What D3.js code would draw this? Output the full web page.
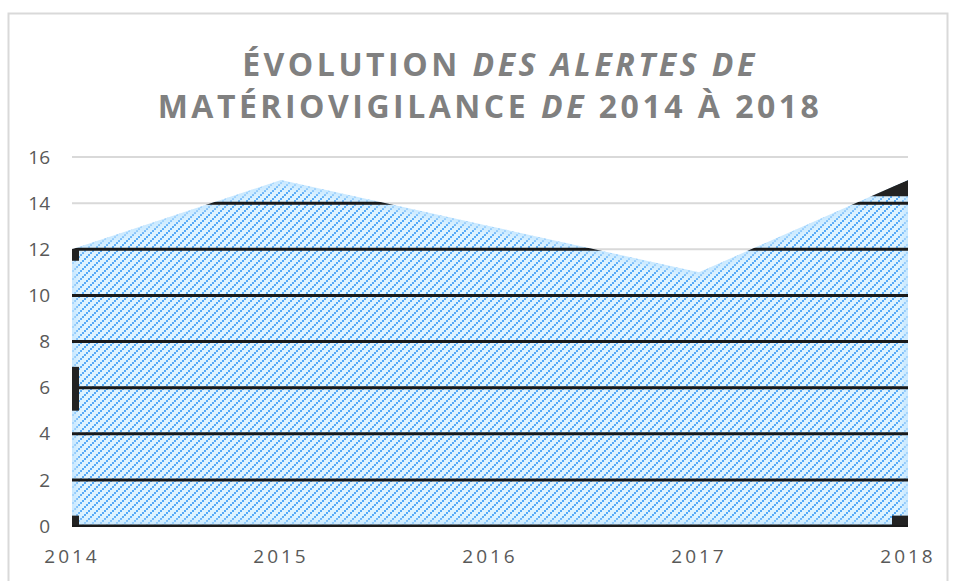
<!DOCTYPE html>
<html lang="fr">
<head>
<meta charset="UTF-8">
<title>Évolution des alertes de matériovigilance</title>
<script src="https://d3js.org/d3.v7.min.js"></script>
<style>
  * { margin: 0; padding: 0; box-sizing: border-box; }
  body { background: #fff; width: 955px; height: 581px; overflow: hidden; }
  svg text { font-family: "Open Sans", "DejaVu Sans", sans-serif; }
</style>
</head>
<body>
<div id="chart"></div>
<script>
  // données
  const annees = ["2014", "2015", "2016", "2017", "2018"];
  const alertes = [12, 15, 13, 11, 15];
  const yTicks = [0, 2, 4, 6, 8, 10, 12, 14, 16];

  const W = 955, H = 581;
  const margin = { top: 157, right: 47, bottom: 55, left: 72 };

  const svg = d3.select("#chart").append("svg")
    .attr("width", W).attr("height", H);

  const defs = svg.append("defs");

  // motif hachuré diagonal
  const pat = defs.append("pattern")
    .attr("id", "hach")
    .attr("patternUnits", "userSpaceOnUse")
    .attr("width", 8).attr("height", 8);
  pat.append("rect").attr("width", 8).attr("height", 8).attr("fill", "#e0f4ff");
  [[0, 6], [2, 4], [4, 2], [6, 0]].forEach(p => {
    pat.append("rect").attr("x", p[0]).attr("y", p[1])
      .attr("width", 2).attr("height", 2).attr("fill", "#55aaf7");
  });

  const blur = defs.append("filter").attr("id", "glow")
    .attr("x", "-5%").attr("y", "-5%").attr("width", "110%").attr("height", "110%");
  blur.append("feGaussianBlur").attr("stdDeviation", 3);

  // cadre
  svg.append("rect")
    .attr("x", 8.5).attr("y", 13.5)
    .attr("width", 939).attr("height", 600)
    .attr("fill", "none").attr("stroke", "#d9d9d9").attr("stroke-width", 2);

  // titre
  const titre = svg.append("text")
    .attr("text-anchor", "middle")
    .attr("fill", "#808080")
    .style("font-size", "32px")
    .style("font-weight", "bold")
    .style("letter-spacing", "3.5px");
  const l1 = titre.append("tspan").attr("x", 500).attr("y", 76);
  l1.append("tspan").text("ÉVOLUTION ");
  l1.append("tspan").style("font-style", "italic").text("DES ALERTES DE");
  const l2 = titre.append("tspan").attr("x", 490).attr("y", 118);
  l2.append("tspan").text("MATÉRIOVIGILANCE ");
  l2.append("tspan").style("font-style", "italic").text("DE");
  l2.append("tspan").text(" 2014 À 2018");

  const x = d3.scalePoint().domain(annees).range([margin.left, W - margin.right]);
  const y = d3.scaleLinear().domain([0, 16]).range([H - margin.bottom, margin.top]);

  const area = d3.area()
    .x((d, i) => x(annees[i]))
    .y0(y(0))
    .y1(d => y(d));

  defs.append("clipPath").attr("id", "clipAire")
    .append("path").attr("d", area(alertes));

  // grille claire
  svg.append("g")
    .selectAll("line")
    .data(yTicks)
    .join("line")
    .attr("x1", margin.left).attr("x2", W - margin.right)
    .attr("y1", d => y(d)).attr("y2", d => y(d))
    .attr("stroke", "#d9d9d9").attr("stroke-width", 2);

  // aire
  const g = svg.append("g").attr("clip-path", "url(#clipAire)");
  g.append("path").attr("d", area(alertes)).attr("fill", "url(#hach)");
  // lueur interne des bords
  g.append("path").attr("d", area(alertes))
    .attr("fill", "none").attr("stroke", "#c4e6ff").attr("stroke-width", 10)
    .attr("opacity", 0.85).attr("filter", "url(#glow)");

  // grille sombre dans l'aire
  g.selectAll("line.sombre")
    .data(yTicks)
    .join("line")
    .attr("class", "sombre")
    .attr("x1", margin.left).attr("x2", W - margin.right)
    .attr("y1", d => y(d)).attr("y2", d => y(d))
    .attr("stroke", "#1a1a1a").attr("stroke-width", 3);

  // petites marques sombres
  g.append("rect").attr("x", x("2014")).attr("y", y(0.45)).attr("width", 7).attr("height", y(0) - y(0.45)).attr("fill", "#222");
  g.append("rect").attr("x", x("2014")).attr("y", y(6.9)).attr("width", 7).attr("height", y(5) - y(6.9)).attr("fill", "#222");
  g.append("rect").attr("x", x("2014")).attr("y", y(12)).attr("width", 7).attr("height", y(11.5) - y(12)).attr("fill", "#222");
  g.append("rect").attr("x", x("2018") - 16).attr("y", y(0.45)).attr("width", 16).attr("height", y(0) - y(0.45)).attr("fill", "#222");
  g.append("path")
    .attr("d", `M${x("2018") - 40},${y(14.3)}L${x("2018")},${y(15)}L${x("2018")},${y(14.3)}Z`)
    .attr("fill", "#222");

  // axe horizontal
  svg.append("line")
    .attr("x1", margin.left).attr("x2", W - margin.right)
    .attr("y1", y(0)).attr("y2", y(0))
    .attr("stroke", "#1a1a1a").attr("stroke-width", 2);

  // étiquettes Y
  svg.append("g")
    .selectAll("text")
    .data(yTicks)
    .join("text")
    .attr("x", 50).attr("y", d => y(d))
    .attr("dy", "0.35em")
    .attr("text-anchor", "end")
    .attr("fill", "#595959")
    .style("font-size", "19px")
    .text(d => d);

  // étiquettes X
  svg.append("g")
    .selectAll("text")
    .data(annees)
    .join("text")
    .attr("x", d => x(d))
    .attr("y", 563)
    .attr("text-anchor", "middle")
    .attr("fill", "#595959")
    .style("font-size", "19px")
    .style("letter-spacing", "3px")
    .text(d => d);
</script>
</body>
</html>
